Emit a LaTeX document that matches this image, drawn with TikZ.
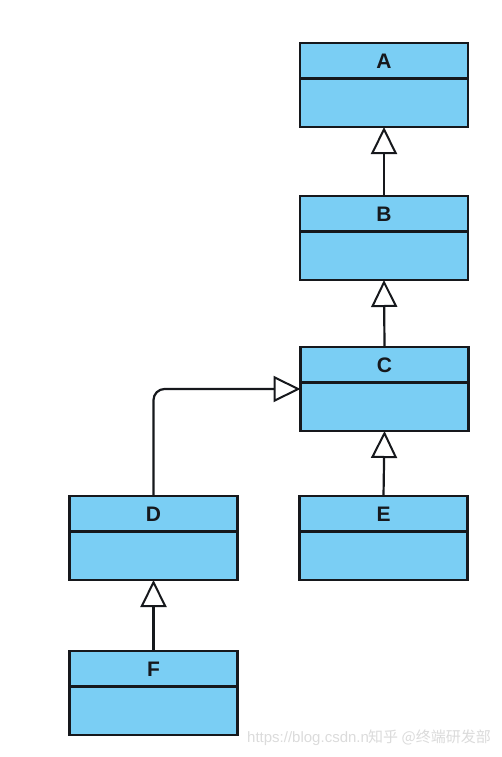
\documentclass[tikz,border=0pt]{standalone}
\usepackage{fontspec}
\setmainfont{Liberation Sans}
\newfontfamily\cjk{Noto Sans CJK SC}
\usetikzlibrary{arrows.meta}
\definecolor{boxfill}{RGB}{122,206,244}
\definecolor{edge}{RGB}{22,24,28}
\tikzset{
  clsbox/.style={draw=edge, fill=boxfill, line width=2.2pt, minimum width=168pt, minimum height=84pt, inner sep=0pt, outer sep=0pt},
  clstitle/.style={font=\bfseries\fontsize{21}{21}\selectfont, text=edge, inner sep=0pt},
  inherit/.style={draw=edge, line width=2.2pt, -{Triangle[fill=white, length=27pt, width=26pt, line width=2pt]}},
  wm/.style={text=black!14, font=\fontsize{15}{15}\selectfont, inner sep=0pt, anchor=west}
}
\newcommand\umlcls[3]{%
  \node[clsbox] (#1) at (#2,#3) {};
  \draw[edge, line width=2.2pt] ([yshift=-35.5pt]#1.north west) -- ([yshift=-35.5pt]#1.north east);
  \node[clstitle] (#1t) at ([yshift=-18pt]#1.north) {#1};
}
\begin{document}
\begin{tikzpicture}[x=1pt,y=-1pt]
\useasboundingbox (0,0) rectangle (501,757);
\umlcls{A}{384}{85}
\umlcls{B}{384}{238}
\umlcls{C}{384.5}{389}
\umlcls{D}{153.5}{538}
\umlcls{E}{383.5}{538}
\umlcls{F}{153.5}{693}
\draw[inherit] (B.north) -- (A.south);
\draw[inherit] (C.north) -- (B.south);
\draw[inherit] (E.north) -- (C.south);
\draw[inherit, rounded corners=11pt] (D.north) |- (C.west);
\draw[inherit] (F.north) -- (D.south);
\node[wm] (url) at (247,739) {https://blog.csdn.n};
\node[wm, fill=white] (zh) at (368,737) {\cjk 知乎 @终端研发部};
\end{tikzpicture}
\end{document}
